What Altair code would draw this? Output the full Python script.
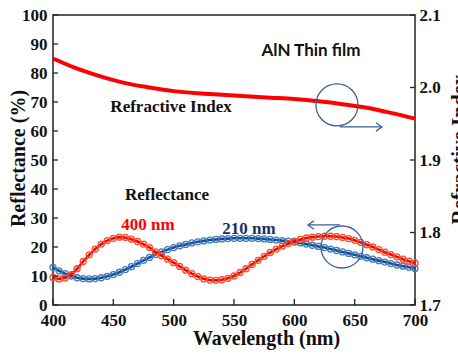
import altair as alt
import pandas as pd

# ---------------- data ----------------
wavelength = list(range(400, 705, 5))
refl_400nm = [9.5, 9.0, 9.3, 10.5, 12.5, 15.0, 17.3, 19.3, 21.0, 22.2,
              23.0, 23.4, 23.3, 22.7, 21.9, 21.0, 19.8, 18.3, 17.0, 15.8,
              14.6, 13.3, 12.0, 10.8, 9.8, 9.0, 8.6, 8.5, 8.7, 9.2,
              10.0, 11.2, 12.5, 14.0, 15.4, 16.8, 18.1, 19.3, 20.3, 21.2,
              22.0, 22.6, 23.1, 23.4, 23.6, 23.7, 23.7, 23.6, 23.3, 22.9,
              22.3, 21.6, 20.8, 20.0, 19.1, 18.2, 17.4, 16.6, 15.8, 15.1,
              14.5]
refl_210nm = [13.0, 11.8, 10.8, 10.0, 9.4, 9.1, 9.0, 9.1, 9.4, 9.9,
              10.5, 11.3, 12.2, 13.2, 14.3, 15.4, 16.4, 17.4, 18.3, 19.1,
              19.8, 20.4, 20.9, 21.4, 21.8, 22.1, 22.4, 22.6, 22.8, 22.9,
              23.0, 23.0, 23.0, 23.0, 22.9, 22.8, 22.6, 22.4, 22.2, 22.0,
              21.7, 21.4, 21.0, 20.6, 20.2, 19.8, 19.3, 18.8, 18.3, 17.8,
              17.3, 16.8, 16.3, 15.8, 15.3, 14.8, 14.3, 13.8, 13.4, 13.0,
              12.6]
ri_wavelength = [400, 420, 440, 460, 480, 500, 520, 540, 560, 580,
                 600, 620, 640, 660, 680, 700]
refractive_index = [2.040, 2.026, 2.015, 2.006, 2.000, 1.995, 1.992, 1.990,
                    1.988, 1.986, 1.984, 1.981, 1.977, 1.972, 1.965, 1.957]
x_ticks = [400, 450, 500, 550, 600, 650, 700]
y_ticks_left = [0, 10, 20, 30, 40, 50, 60, 70, 80, 90, 100]
y_ticks_right = [1.7, 1.8, 1.9, 2.0, 2.1]

# annotation anchors (data coordinates)
ann_labels = ["AlN Thin film", "Refractive Index", "Reflectance", "400 nm", "210 nm"]
ann_x = [613.8, 497.8, 494.5, 478.7, 562.4]
ann_y = [85.9, 68.3, 37.9, 27.6, 26.2]
circle_x = [635.3, 639.5]
circle_y = [69.0, 20.0]
arrow_x1 = [637.8, 637.8]
arrow_x2 = [672.6, 611.3]
arrow_y = [61.4, 27.6]

# ---------------- styling ----------------
SERIF = "Liberation Serif"
RED = "#ff0000"
RED_M = "#f2502e"
BLUE = "#1b4a86"
BLUE_M = "#3b7dc4"
ANN = "#3a5f9a"

xs = alt.Scale(domain=[400, 700], nice=False, zero=False)
yl = alt.Scale(domain=[0, 100], nice=False)
yr = alt.Scale(domain=[1.7, 2.1], nice=False, zero=False)

refl = pd.DataFrame({
    "wl": wavelength * 2,
    "R": refl_400nm + refl_210nm,
    "film": ["400 nm"] * len(wavelength) + ["210 nm"] * len(wavelength),
})
r400 = refl[refl.film == "400 nm"]
r210 = refl[refl.film == "210 nm"]

X_AXIS = alt.Axis(values=x_ticks, title="Wavelength (nm)", grid=False, domain=False,
                  tickSize=0, labelPadding=7, labelFlush=False, labelFont=SERIF,
                  labelFontSize=17, labelFontWeight="bold", labelColor="#111",
                  titleFont=SERIF, titleFontSize=20, titleFontWeight="bold", titleColor="#111",
                  titleX=213, titleY=39, titleBaseline="alphabetic", titleAnchor="middle",
                  orient="bottom")
YL_AXIS = alt.Axis(values=y_ticks_left, title="Reflectance (%)", grid=False, domain=False,
                   tickSize=0, labelPadding=6, labelFont=SERIF, labelFontSize=17,
                   labelFontWeight="bold", labelColor="#111", titleFont=SERIF,
                   titleFontSize=20, titleFontWeight="bold", titleColor="#111",
                   titleAngle=270, titleX=-29, titleY=143, titleBaseline="alphabetic",
                   titleAlign="center", orient="left")
YR_AXIS = alt.Axis(values=y_ticks_right, format=".1f", title="Refractive Index", grid=False,
                   domain=False, tickSize=0, labelPadding=4, labelFont=SERIF, labelFontSize=17,
                   labelFontWeight="bold", labelColor="#111", titleFont=SERIF,
                   titleFontSize=21, titleFontWeight="bold", titleColor="#111",
                   titleAngle=270, titleX=50, titleY=134, titleBaseline="alphabetic",
                   titleAlign="center", orient="right")


def X(field="wl"):
    return alt.X(f"{field}:Q", scale=xs, axis=X_AXIS)


def Yl(field="R", axis=None):
    return alt.Y(f"{field}:Q", scale=yl, axis=axis)


# left-scale layers
blue_line = alt.Chart(r210).mark_line(color=BLUE, strokeWidth=2.6).encode(
    x=X(), y=Yl(axis=YL_AXIS))
blue_pts = alt.Chart(r210).mark_point(shape="circle", filled=False, color=BLUE_M,
                                      strokeWidth=1.3, size=36, opacity=1).encode(x=X(), y=Yl())
red_line = alt.Chart(r400).mark_line(color=RED, strokeWidth=2.6).encode(x=X(), y=Yl())
red_pts = alt.Chart(r400).mark_point(shape="circle", filled=False, color=RED_M,
                                     strokeWidth=1.3, size=36, opacity=1).encode(x=X(), y=Yl())

ann = pd.DataFrame({"t": ann_labels, "x": ann_x, "y": ann_y})
title_txt = alt.Chart(ann.iloc[[0]]).mark_text(font="Lato", fontSize=17, fontWeight="bold",
                                               color="#111", align="center", baseline="alphabetic"
                                               ).encode(x=X("x"), y=Yl("y"), text="t:N")
black_txt = alt.Chart(ann.iloc[[1, 2]]).mark_text(font=SERIF, fontSize=17, fontWeight="bold",
                                                  color="#111", align="center", baseline="middle"
                                                  ).encode(x=X("x"), y=Yl("y"), text="t:N")
red_txt = alt.Chart(ann.iloc[[3]]).mark_text(font=SERIF, fontSize=17, fontWeight="bold",
                                             color=RED, align="center", baseline="middle"
                                             ).encode(x=X("x"), y=Yl("y"), text="t:N")
blue_txt = alt.Chart(ann.iloc[[4]]).mark_text(font=SERIF, fontSize=17, fontWeight="bold",
                                              color="#1a2f6a", align="center", baseline="middle"
                                              ).encode(x=X("x"), y=Yl("y"), text="t:N")

circ = pd.DataFrame({"x": circle_x, "y": circle_y})
circles = alt.Chart(circ).mark_point(shape="circle", filled=False, color=ANN, strokeWidth=1.3,
                                     size=1764, opacity=1).encode(x=X("x"), y=Yl("y"))
arr = pd.DataFrame({"x1": arrow_x1, "x2": arrow_x2, "y": arrow_y})
arrow_lines = alt.Chart(arr).mark_rule(color=ANN, strokeWidth=1.3).encode(
    x=X("x1"), x2="x2:Q", y=Yl("y"))
head_r = alt.Chart(arr.iloc[[0]]).mark_point(shape="M-1,-0.7L0,0L-1,0.7", filled=False,
                                             color=ANN, strokeWidth=1.3, size=144, opacity=1
                                             ).encode(x=X("x2"), y=Yl("y"))
head_l = alt.Chart(arr.iloc[[1]]).mark_point(shape="M1,-0.7L0,0L1,0.7", filled=False,
                                             color=ANN, strokeWidth=1.3, size=144, opacity=1
                                             ).encode(x=X("x2"), y=Yl("y"))

xt = pd.DataFrame({"v": x_ticks})
ytl = pd.DataFrame({"v": y_ticks_left})
ytr = pd.DataFrame({"v": y_ticks_right})
bottom_ticks = alt.Chart(xt).mark_rule(color="#222", strokeWidth=1.3).encode(
    x=X("v"), y=alt.value(290), y2=alt.value(284))
left_ticks = alt.Chart(ytl).mark_rule(color="#222", strokeWidth=1.3).encode(
    y=Yl("v"), x=alt.value(0), x2=alt.value(5))

ri = pd.DataFrame({"wl": ri_wavelength, "n": refractive_index})
ri_line = alt.Chart(ri).mark_line(color=RED, strokeWidth=4, interpolate="monotone").encode(
    x=X(), y=alt.Y("n:Q", scale=yr, axis=YR_AXIS))
right_ticks = alt.Chart(ytr).mark_rule(color="#222", strokeWidth=1.3).encode(
    y=alt.Y("v:Q", scale=yr, axis=None), x=alt.value(362), x2=alt.value(357))

chart = alt.layer(blue_line, ri_line, blue_pts, red_line, red_pts, bottom_ticks, left_ticks,
                  right_ticks, circles, arrow_lines, head_r, head_l,
                  title_txt, black_txt, red_txt, blue_txt
                  ).resolve_scale(y="independent").properties(
    width=362, height=290,
    autosize=alt.AutoSizeParams(type="none"),
    padding={"left": 53, "top": 15, "right": 43, "bottom": 49},
    background="white",
).configure_view(stroke="#222", strokeWidth=1.5)

chart.save("out.html", embed_options={"renderer": "svg", "actions": False})
